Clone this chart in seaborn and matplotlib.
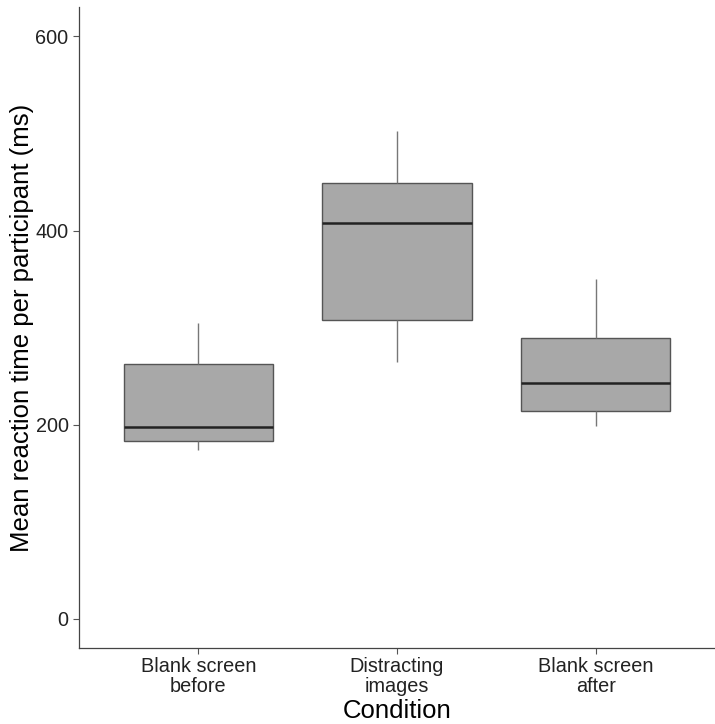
import matplotlib
matplotlib.use("Agg")
import matplotlib.pyplot as plt
import seaborn as sns
import pandas as pd

categories = ["Blank screen\nbefore", "Distracting\nimages", "Blank screen\nafter"]
whisker_low = [174, 265, 199]
q1 = [183, 308, 214]
median = [198, 408, 243]
q3 = [263, 449, 289]
whisker_high = [305, 503, 350]

rows = []
for i, c in enumerate(categories):
    for v in (whisker_low[i], q1[i], median[i], q3[i], whisker_high[i]):
        rows.append({"Condition": c, "RT": v})
df = pd.DataFrame(rows)

sns.set_theme(style="white")
plt.rcParams["font.family"] = ["Liberation Sans", "DejaVu Sans"]

fig = plt.figure(figsize=(7.15, 7.24), dpi=100)
ax = fig.add_axes([0.1105, 0.105, 0.8895, 0.885])

sns.boxplot(data=df, x="Condition", y="RT", order=categories, ax=ax,
            width=0.75, color="#a8a8a8", saturation=1, whis=1.5,
            linecolor="#555555", linewidth=1.0,
            medianprops=dict(color="#222222", linewidth=1.8),
            whiskerprops=dict(color="#777777", linewidth=1.0),
            capprops=dict(linewidth=0), fliersize=0)

ax.set_xlim(-0.6, 2.6)
ax.set_ylim(-30, 630)
ax.set_yticks([0, 200, 400, 600])
ax.set_xlabel("Condition", fontsize=18.5, color="black", labelpad=2.5)
ax.set_ylabel("Mean reaction time per participant (ms)", fontsize=18.5, color="black", labelpad=1)
ax.tick_params(axis="both", labelsize=14.3, labelcolor="#222222", colors="#555555",
               length=4, width=0.8, direction="out", bottom=True, left=True)
ax.tick_params(axis="x", pad=2.5)
plt.setp(ax.get_xticklabels(), linespacing=1.05)
for lbl in ax.get_xticklabels():
    lbl.set_color("#222222")
for s in ["top", "right"]:
    ax.spines[s].set_visible(False)
for s in ["left", "bottom"]:
    ax.spines[s].set_color("#444444")
    ax.spines[s].set_linewidth(0.9)

fig.savefig("out.png", dpi=100)
